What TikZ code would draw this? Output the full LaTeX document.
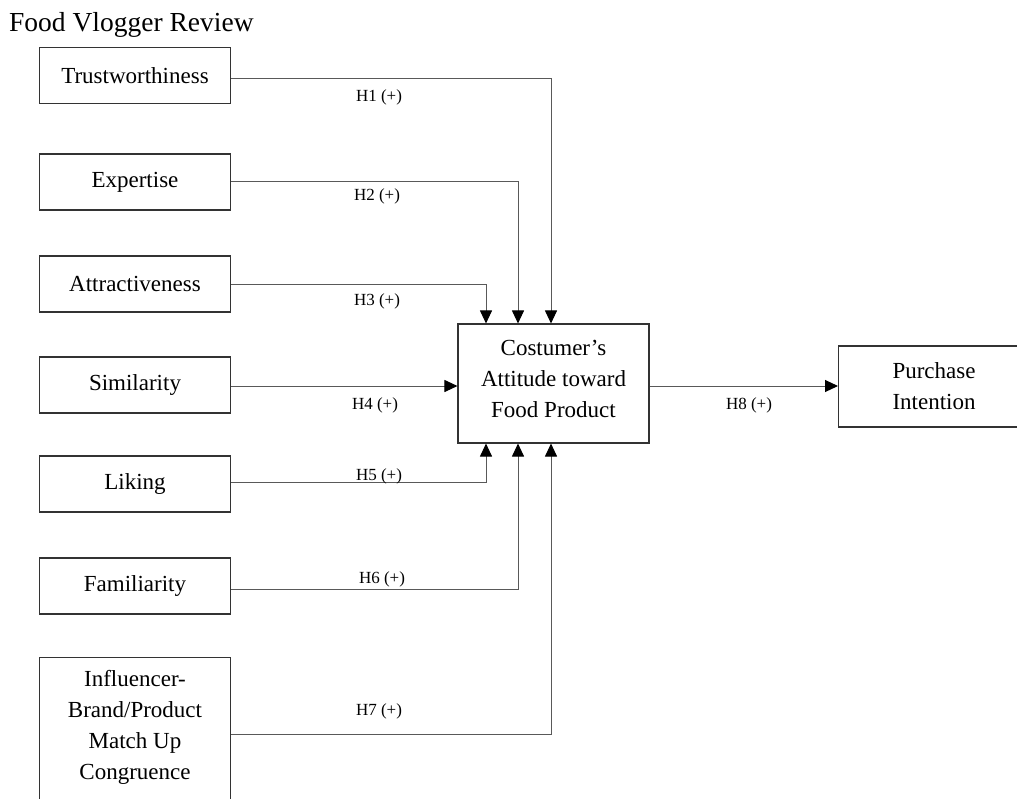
\documentclass[tikz,border=0pt]{standalone}
\usepackage{fontspec}
\setmainfont{Liberation Serif}
\usetikzlibrary{arrows.meta}
\tikzset{
  box/.style={draw=black!80, line width=1.1pt, rectangle, minimum width=191pt, minimum height=56pt, inner sep=0pt, align=center, font=\fontsize{23}{31}\selectfont},
  conn/.style={draw=black!65, line width=1pt, -{Triangle[length=13pt,width=12pt,color=black]}},
  hyp/.style={font=\fontsize{17}{20}\selectfont, inner sep=0pt},
  txt/.style={inner sep=0pt, align=center, font=\fontsize{23}{31}\selectfont}
}
\begin{document}
\begin{tikzpicture}[x=1pt,y=-1pt]
\useasboundingbox (0,0) rectangle (1017,798);
\node[anchor=west, inner sep=0pt, font=\fontsize{27.5}{30}\selectfont] (title) at (9,25) {Food Vlogger Review};
% left boxes
\node[box] (t) at (135,75.5) {Trustworthiness};
\node[box] (e) at (135,182) {Expertise};
\node[box] (a) at (135,284) {Attractiveness};
\node[box] (s) at (135,385) {Similarity};
\node[box] (l) at (135,484) {Liking};
\node[box] (f) at (135,586) {Familiarity};
\node[box, minimum height=160pt, anchor=north] (i) at (135,657) {};
\node[txt] (itxt) at (135,727) {Influencer-\\Brand/Product\\Match Up\\Congruence};
% centre and right
\node[box, minimum height=119pt] (c) at (553.5,383.5) {};
\node[txt] (ctxt) at (553.5,379) {Costumer's\\Attitude toward\\Food Product};
\node[box, minimum height=81pt, anchor=west] (p) at (838,386.5) {Purchase\\Intention};
% connectors
\draw[conn] (t.east |- 0,78) -| (c.north -| 551,0);
\draw[conn] (e.east |- 0,181) -| (c.north -| 518,0);
\draw[conn] (a.east |- 0,284) -| (c.north -| 486,0);
\draw[conn] (s.east |- 0,386) -- (c.west |- 0,386);
\draw[conn] (l.east |- 0,482) -| (c.south -| 486,0);
\draw[conn] (f.east |- 0,589) -| (c.south -| 518,0);
\draw[conn] (i.east |- 0,734) -| (c.south -| 551,0);
\draw[conn] (c.east |- 0,386) -- (p.west |- 0,386);
% labels
\node[hyp] (h1) at (379,97) {H1 (+)};
\node[hyp] (h2) at (377,196) {H2 (+)};
\node[hyp] (h3) at (377,301) {H3 (+)};
\node[hyp] (h4) at (375,405) {H4 (+)};
\node[hyp] (h5) at (379,476) {H5 (+)};
\node[hyp] (h6) at (382,579) {H6 (+)};
\node[hyp] (h7) at (379,711) {H7 (+)};
\node[hyp] (h8) at (749,405) {H8 (+)};
\end{tikzpicture}
\end{document}
